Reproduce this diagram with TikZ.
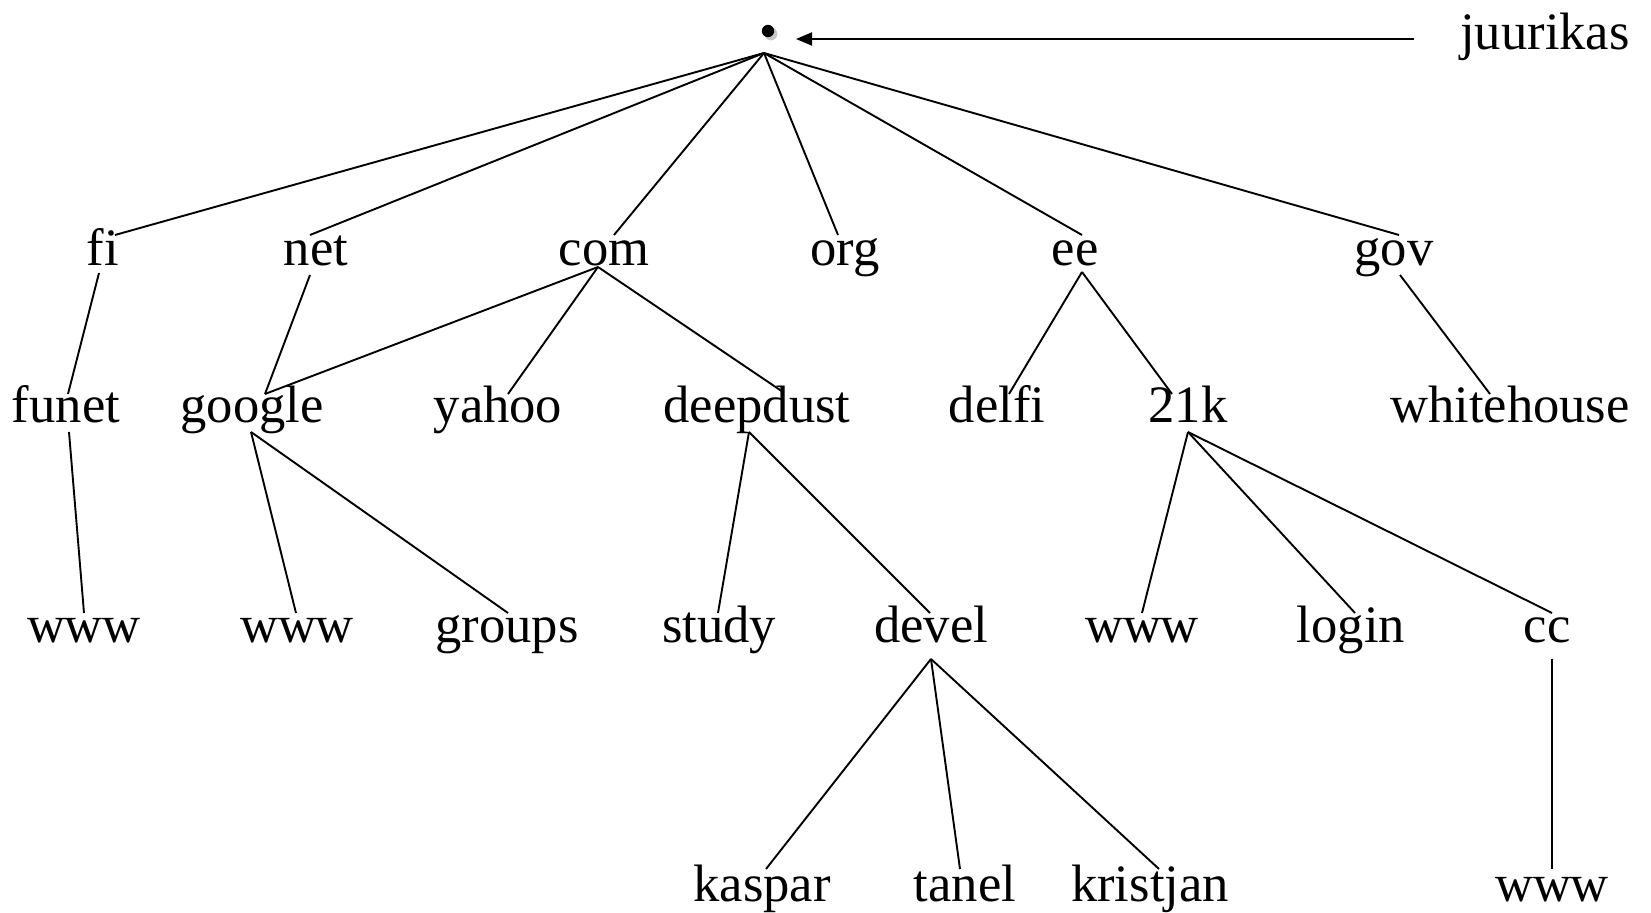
\documentclass[tikz,border=0pt]{standalone}
\usepackage{fontspec}
\setmainfont{Liberation Serif}
\usetikzlibrary{arrows.meta,calc}
\begin{document}
\begin{tikzpicture}[x=0.5pt,y=-0.5pt,
  label/.style={inner sep=0pt,anchor=base,font=\fontsize{26.3}{30}\selectfont},
  edge/.style={line width=0.95pt},
  pointer/.style={line width=0.95pt,-{Triangle[length=8pt,width=6.5pt]}}]
\useasboundingbox (0,0) rectangle (1651,913);

% root dot with its soft shadow
\fill[gray!45] (771,34) circle (3.2pt);
\node[circle,fill=black,inner sep=0pt,minimum size=6.2pt] (root) at (768,31) {};
\node[label] (juurikas) at (1545,50) {juurikas};

% first level
\node[label] (fi)  at (103,266) {fi};
\node[label] (net) at (316,266) {net};
\node[label] (com) at (604,266) {com};
\node[label] (org) at (845,266) {org};
\node[label] (ee)  at (1075,266) {ee};
\node[label] (gov) at (1394,266) {gov};

% second level
\node[label] (funet)      at (66,423)   {funet};
\node[label] (google)     at (252,423)  {google};
\node[label] (yahoo)      at (498,423)  {yahoo};
\node[label] (deepdust)   at (757,423)  {deepdust};
\node[label] (delfi)      at (997,423)  {delfi};
\node[label] (k21)        at (1188,423) {21k};
\node[label] (whitehouse) at (1510,423) {whitehouse};

% third level
\node[label] (wwwA)   at (84,643)   {www};
\node[label] (wwwB)   at (297,643)  {www};
\node[label] (groups) at (507,643)  {groups};
\node[label] (study)  at (719,643)  {study};
\node[label] (devel)  at (931,643)  {devel};
\node[label] (wwwC)   at (1142,643) {www};
\node[label] (login)  at (1351,643) {login};
\node[label] (cc)     at (1547,643) {cc};

% fourth level
\node[label] (kaspar)   at (762,902)  {kaspar};
\node[label] (tanel)    at (965,902)  {tanel};
\node[label] (kristjan) at (1150,902) {kristjan};
\node[label] (wwwD)     at (1552,902) {www};

% pointer to the root
\draw[pointer] ($(juurikas.base)+(-131,-11)$) -- ($(root.center)+(28,8)$);

% root to first level
\coordinate (rootfoot) at ($(root.center)+(-4,22)$);
\draw[edge] (rootfoot) -- ($(fi.base)+(12,-31)$);
\draw[edge] (rootfoot) -- ($(net.base)+(-6,-31)$);
\draw[edge] (rootfoot) -- ($(com.base)+(10,-31)$);
\draw[edge] (rootfoot) -- ($(org.base)+(-7,-31)$);
\draw[edge] (rootfoot) -- ($(ee.base)+(7,-31)$);
\draw[edge] (rootfoot) -- ($(gov.base)+(5,-31)$);

% first to second level
\draw[edge] ($(fi.base)+(-4,7)$) -- ($(funet.base)+(2,-29)$);
\draw[edge] ($(net.base)+(-6,9)$) -- ($(google.base)+(13,-29)$);
\draw[edge] ($(com.base)+(-6,1)$) -- ($(google.base)+(13,-29)$);
\draw[edge] ($(com.base)+(-6,1)$) -- ($(yahoo.base)+(10,-29)$);
\draw[edge] ($(com.base)+(-6,1)$) -- ($(deepdust.base)+(26,-31)$);
\draw[edge] ($(ee.base)+(7,6)$) -- ($(delfi.base)+(12,-29)$);
\draw[edge] ($(ee.base)+(7,6)$) -- ($(k21.base)+(-16,-29)$);
\draw[edge] ($(gov.base)+(6,9)$) -- ($(whitehouse.base)+(-20,-29)$);

% second to third level
\draw[edge] ($(funet.base)+(3,9)$) -- ($(wwwA.base)+(0,-30)$);
\draw[edge] ($(google.base)+(-1,9)$) -- ($(wwwB.base)+(-1,-30)$);
\draw[edge] ($(google.base)+(-1,9)$) -- ($(groups.base)+(1,-30)$);
\draw[edge] ($(deepdust.base)+(-8,9)$) -- ($(study.base)+(-1,-30)$);
\draw[edge] ($(deepdust.base)+(-8,9)$) -- ($(devel.base)+(-1,-30)$);
\draw[edge] ($(k21.base)+(0,9)$) -- ($(wwwC.base)+(0,-30)$);
\draw[edge] ($(k21.base)+(0,9)$) -- ($(login.base)+(4,-30)$);
\draw[edge] ($(k21.base)+(0,9)$) -- ($(cc.base)+(5,-30)$);

% third to fourth level
\draw[edge] ($(devel.base)+(0,16)$) -- ($(kaspar.base)+(4,-33)$);
\draw[edge] ($(devel.base)+(0,16)$) -- ($(tanel.base)+(-5,-33)$);
\draw[edge] ($(devel.base)+(0,16)$) -- ($(kristjan.base)+(9,-33)$);
\draw[edge] ($(cc.base)+(5,16)$) -- ($(wwwD.base)+(0,-33)$);
\end{tikzpicture}
\end{document}
